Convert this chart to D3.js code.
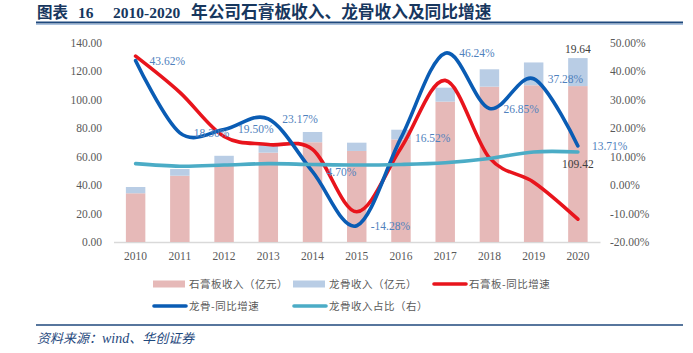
<!DOCTYPE html>
<html>
<head>
<meta charset="utf-8">
<script src="https://cdn.jsdelivr.net/npm/d3@7"></script>
<style>
  body { margin: 0; background: #fff; }
  svg { display: block; }
</style>
</head>
<body>
<div id="chart"></div>
<script>
// Data
const years = ["2010", "2011", "2012", "2013", "2014", "2015", "2016", "2017", "2018", "2019", "2020"];
const gypsumRevenue = [34.2, 46.5, 53.5, 62.7, 70.0, 63.9, 72.0, 98.5, 109.0, 110.0, 109.42];   // 石膏板收入（亿元）
const keelRevenue   = [4.4, 4.7, 7.0, 5.4, 7.2, 5.8, 6.8, 9.8, 12.2, 16.0, 19.64];             // 龙骨收入（亿元）
const gypsumGrowth  = [45.2, 32.5, 17.0, 14.2, 12.5, -9.4, 13.0, 36.7, 9.5, 1.0, -12.0];       // 石膏板-同比增速 (%)
const keelGrowth    = [43.62, 18.30, 19.50, 23.17, 4.70, -14.28, 16.52, 46.24, 26.85, 37.28, 13.71]; // 龙骨-同比增速 (%)
const keelShare     = [7.5, 6.6, 7.0, 7.5, 7.2, 7.0, 7.2, 7.8, 9.3, 11.6, 11.6];             // 龙骨收入占比（右）(%)
const leftTicks  = [0, 20, 40, 60, 80, 100, 120, 140];
const rightTicks = [-20, -10, 0, 10, 20, 30, 40, 50];

const W = 693, H = 353;
const serif = "'Liberation Serif', 'DejaVu Serif', serif";
const cjk = "'Noto Sans CJK SC', 'Noto Sans', sans-serif";

const svg = d3.select("#chart").append("svg")
  .attr("width", W)
  .attr("height", H);

svg.append("rect").attr("width", W).attr("height", H).attr("fill", "#fff");

// Title
const title = svg.append("g").attr("fill", "#17375e").attr("font-weight", "bold");
title.append("text").attr("x", 37).attr("y", 18)
  .attr("font-family", cjk).attr("font-size", 15.5)
  .text("图表");
title.append("text").attr("x", 78).attr("y", 18)
  .attr("font-family", serif).attr("font-size", 15.5)
  .text("16");
title.append("text").attr("x", 113).attr("y", 18)
  .attr("font-family", serif).attr("font-size", 15.5)
  .text("2010-2020");
title.append("text").attr("x", 191).attr("y", 18)
  .attr("font-family", cjk).attr("font-size", 16.7)
  .text("年公司石膏板收入、龙骨收入及同比增速");

svg.append("line").attr("x1", 36).attr("x2", 683).attr("y1", 22.5).attr("y2", 22.5)
  .attr("stroke", "#1f497d").attr("stroke-width", 2);
svg.append("line").attr("x1", 36).attr("x2", 683).attr("y1", 24.3).attr("y2", 24.3)
  .attr("stroke", "#95b3d7").attr("stroke-width", 1);

// Scales
const x = d3.scaleBand()
  .domain(years)
  .range([113.5, 600])
  .paddingInner(0.56)
  .paddingOuter(0.28);

const yL = d3.scaleLinear().domain([0, 140]).range([242, 42.5]);
const yR = d3.scaleLinear().domain([-20, 50]).range([242, 42.5]);
const cx = d => x(d) + x.bandwidth() / 2;

// Axes
const gl = svg.append("g")
  .attr("transform", "translate(113.5,0)")
  .call(d3.axisLeft(yL).tickValues(leftTicks).tickFormat(d3.format(".2f")).tickSize(0).tickPadding(11.5));
const gr = svg.append("g")
  .attr("transform", "translate(600,0)")
  .call(d3.axisRight(yR).tickValues(rightTicks).tickFormat(d => d.toFixed(2) + "%").tickSize(0).tickPadding(10));
[gl, gr].forEach(g => {
  g.select(".domain").remove();
  g.selectAll("text").attr("font-family", serif).attr("font-size", 11.5).attr("fill", "#595959");
});

const gx = svg.append("g")
  .attr("transform", "translate(0,242)")
  .call(d3.axisBottom(x).tickSize(0).tickPadding(10));
gx.select(".domain").attr("stroke", "#d9d9d9").attr("stroke-width", 1.5);
gx.selectAll("text").attr("font-family", serif).attr("font-size", 11.5).attr("fill", "#595959");

// Stacked bars
const rows = years.map((y, i) => ({ year: y, gypsum: gypsumRevenue[i], keel: keelRevenue[i] }));
const stacked = d3.stack().keys(["gypsum", "keel"])(rows);
const barColor = { gypsum: "#e6b9b8", keel: "#b9cde5" };

svg.append("g")
  .selectAll("g")
  .data(stacked)
  .join("g")
  .attr("fill", d => barColor[d.key])
  .selectAll("rect")
  .data(d => d)
  .join("rect")
  .attr("x", d => x(d.data.year))
  .attr("width", x.bandwidth())
  .attr("y", d => yL(d[1]))
  .attr("height", d => yL(d[0]) - yL(d[1]));

// Lines (right axis)
const line = d3.line()
  .x((d, i) => cx(years[i]))
  .y(d => yR(d))
  .curve(d3.curveCardinal.tension(0));

const series = [
  { values: gypsumGrowth, color: "#e8141c" },
  { values: keelGrowth, color: "#0a5cb4" },
  { values: keelShare, color: "#4bacc6" }
];
series.forEach(s => {
  svg.append("path")
    .attr("d", line(s.values))
    .attr("fill", "none")
    .attr("stroke", s.color)
    .attr("stroke-width", 3.6)
    .attr("stroke-linecap", "round")
    .attr("stroke-linejoin", "round");
});

// Data labels for 龙骨-同比增速
svg.append("g")
  .selectAll("text")
  .data(keelGrowth)
  .join("text")
  .attr("x", (d, i) => cx(years[i]) + 14)
  .attr("y", d => yR(d))
  .attr("dy", "0.35em")
  .attr("font-family", serif)
  .attr("font-size", 11.5)
  .attr("fill", "#4f81bd")
  .text(d => d.toFixed(2) + "%");

// Bar labels for 2020
const last = years.length - 1;
svg.append("text")
  .attr("x", cx(years[last]))
  .attr("y", yL(gypsumRevenue[last] + keelRevenue[last]) - 5)
  .attr("text-anchor", "middle")
  .attr("font-family", serif).attr("font-size", 11.5).attr("fill", "#404040")
  .text(keelRevenue[last].toFixed(2));
svg.append("text")
  .attr("x", cx(years[last]))
  .attr("y", (yL(0) + yL(gypsumRevenue[last])) / 2)
  .attr("dy", "0.35em")
  .attr("text-anchor", "middle")
  .attr("font-family", serif).attr("font-size", 11.5).attr("fill", "#404040")
  .text(gypsumRevenue[last].toFixed(2));

// Legend
const legendItems = [
  { label: "石膏板收入（亿元）", type: "rect", color: "#e6b9b8", x: 153, y: 284 },
  { label: "龙骨收入（亿元）", type: "rect", color: "#b9cde5", x: 293, y: 284 },
  { label: "石膏板-同比增速", type: "line", color: "#e8141c", x: 433, y: 284 },
  { label: "龙骨-同比增速", type: "line", color: "#0a5cb4", x: 153, y: 306 },
  { label: "龙骨收入占比（右）", type: "line", color: "#4bacc6", x: 293, y: 306 }
];
const legend = svg.append("g");
legendItems.forEach(it => {
  const row = legend.append("g").attr("transform", `translate(${it.x},${it.y})`);
  if (it.type === "rect") {
    row.append("rect").attr("x", 0).attr("y", -3.5).attr("width", 32).attr("height", 7).attr("fill", it.color);
  } else {
    row.append("line").attr("x1", 1).attr("x2", 33).attr("y1", 0).attr("y2", 0)
      .attr("stroke", it.color).attr("stroke-width", 3.6).attr("stroke-linecap", "round");
  }
  row.append("text")
    .attr("x", 36)
    .attr("y", 0)
    .attr("dy", "0.35em")
    .attr("font-family", cjk)
    .attr("font-size", 10.5)
    .attr("letter-spacing", 0.5)
    .attr("fill", "#595959")
    .text(it.label);
});

// Source
svg.append("line").attr("x1", 36).attr("x2", 683).attr("y1", 325).attr("y2", 325)
  .attr("stroke", "#1f497d").attr("stroke-width", 1.5);
const src = svg.append("text")
  .attr("x", 37).attr("y", 343)
  .attr("fill", "#1f497d")
  .attr("font-size", 13)
  .attr("font-style", "italic")
  .attr("font-family", cjk);
src.append("tspan").text("资料来源：");
src.append("tspan").attr("font-family", serif).attr("font-size", 14).text("wind");
src.append("tspan").text("、华创证券");
</script>
</body>
</html>
